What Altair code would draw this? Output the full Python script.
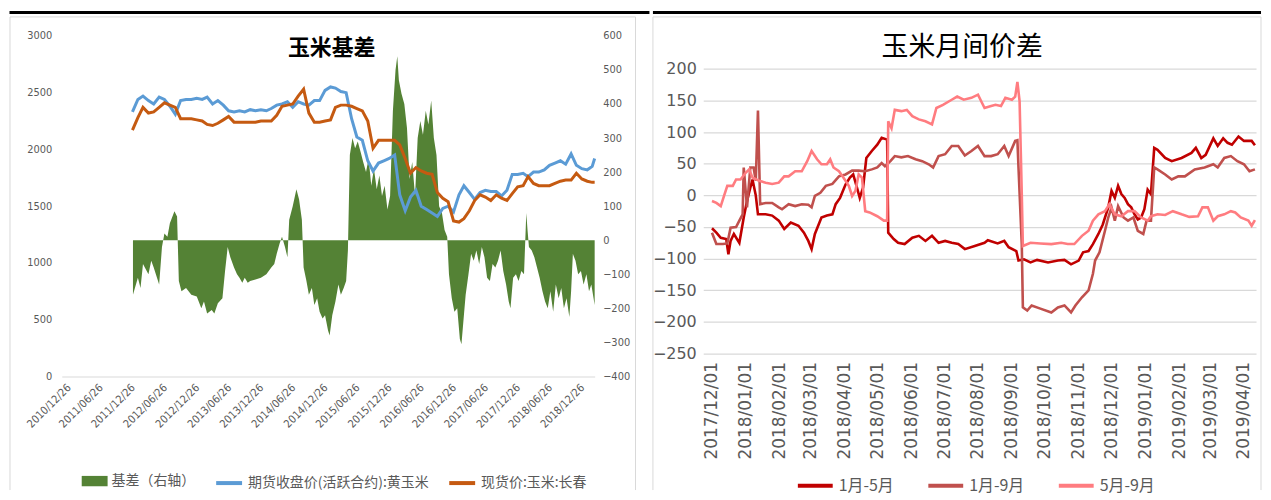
import altair as alt
import pandas as pd

# ---------------- Left panel: 玉米基差 ----------------
price_dates = [f"{2012 + i // 12}-{i % 12 + 1:02d}-15" for i in range(87)] + ["2019-03-29"]

futures_close = [
    2330, 2440, 2470, 2430, 2400, 2460, 2440, 2380, 2310, 2430, 2440, 2440,
    2450, 2440, 2460, 2400, 2430, 2390, 2340, 2330, 2340, 2330, 2350, 2340,
    2350, 2340, 2360, 2390, 2400, 2420, 2370, 2420, 2400, 2390, 2430, 2430,
    2520, 2550, 2540, 2510, 2500, 2270, 2110, 2080, 1900, 1810, 1880, 1900,
    1920, 1950, 1600, 1460, 1580, 1640, 1500, 1470, 1440, 1410, 1480, 1500,
    1450, 1600, 1680, 1620, 1560, 1620, 1640, 1630, 1630, 1590, 1640, 1780,
    1780, 1790, 1760, 1800, 1800, 1820, 1860, 1880, 1900, 1870, 1960, 1860,
    1830, 1820, 1850, 1920,
]

spot_price = [
    2170, 2280, 2370, 2320, 2330, 2370, 2410, 2390, 2370, 2270, 2270, 2270,
    2260, 2250, 2220, 2210, 2230, 2260, 2290, 2240, 2240, 2240, 2240, 2240,
    2250, 2250, 2250, 2300, 2380, 2390, 2400, 2470, 2530, 2320, 2240, 2240,
    2250, 2260, 2370, 2390, 2390, 2380, 2360, 2340, 2250, 2010, 2080, 2080,
    2080, 2080, 2040, 1920, 1790, 1840, 1810, 1790, 1780, 1620, 1570, 1540,
    1370, 1360, 1390, 1460, 1550, 1600, 1580, 1550, 1600, 1570, 1550, 1610,
    1670, 1680, 1760, 1700, 1680, 1680, 1680, 1700, 1720, 1730, 1730, 1790,
    1740, 1720, 1710, 1710,
]

basis = [
    ("2012-01-18", -160), ("2012-02-15", -110), ("2012-03-01", -140), ("2012-03-15", -70),
    ("2012-04-15", -100), ("2012-05-01", -60), ("2012-05-15", -80), ("2012-06-15", -130),
    ("2012-07-01", -20), ("2012-07-15", 20), ("2012-08-01", 10), ("2012-08-15", 50),
    ("2012-09-10", 85), ("2012-09-25", 70), ("2012-10-05", -120), ("2012-10-20", -150),
    ("2012-11-15", -140), ("2012-12-15", -160), ("2013-01-15", -165), ("2013-02-10", -200),
    ("2013-02-25", -180), ("2013-03-15", -215), ("2013-04-10", -205), ("2013-04-25", -215),
    ("2013-05-15", -185), ("2013-06-10", -170), ("2013-06-25", -90), ("2013-07-10", -20),
    ("2013-07-25", -50), ("2013-08-15", -80), ("2013-09-01", -100), ("2013-09-15", -110),
    ("2013-10-01", -125), ("2013-10-15", -110), ("2013-11-01", -125), ("2013-11-15", -120),
    ("2013-12-15", -115), ("2014-01-15", -110), ("2014-02-15", -100), ("2014-03-15", -80),
    ("2014-04-01", -70), ("2014-04-15", -40), ("2014-05-01", -10), ("2014-05-15", 10),
    ("2014-06-01", -20), ("2014-06-15", -50), ("2014-06-25", 60), ("2014-07-15", 100),
    ("2014-08-05", 150), ("2014-08-20", 120), ("2014-09-05", 60), ("2014-09-15", -80),
    ("2014-10-01", -120), ("2014-10-15", -160), ("2014-11-01", -140), ("2014-11-15", -190),
    ("2014-12-01", -170), ("2014-12-15", -210), ("2015-01-01", -230), ("2015-01-15", -220),
    ("2015-02-01", -265), ("2015-02-10", -280), ("2015-02-25", -220), ("2015-03-15", -180),
    ("2015-04-01", -130), ("2015-04-15", -160), ("2015-05-01", -140), ("2015-05-15", -120),
    ("2015-05-25", -30), ("2015-06-05", 250), ("2015-06-20", 300), ("2015-07-05", 270),
    ("2015-07-20", 290), ("2015-08-05", 260), ("2015-08-20", 230), ("2015-09-05", 200),
    ("2015-09-20", 240), ("2015-10-05", 160), ("2015-10-20", 210), ("2015-11-05", 150),
    ("2015-11-20", 190), ("2015-12-05", 130), ("2015-12-20", 160), ("2016-01-05", 90),
    ("2016-01-20", 130), ("2016-02-05", 380), ("2016-02-20", 500), ("2016-03-01", 540),
    ("2016-03-10", 470), ("2016-03-25", 430), ("2016-04-10", 400), ("2016-04-25", 330),
    ("2016-05-10", 180), ("2016-05-25", 230), ("2016-06-10", 130), ("2016-06-25", 300),
    ("2016-07-10", 350), ("2016-07-25", 310), ("2016-08-10", 380), ("2016-08-25", 340),
    ("2016-09-10", 410), ("2016-09-25", 300), ("2016-10-10", 250), ("2016-10-25", 100),
    ("2016-11-10", 80), ("2016-11-25", 30), ("2016-12-10", 10), ("2016-12-20", -100),
    ("2017-01-05", -170), ("2017-01-20", -210), ("2017-02-05", -200), ("2017-02-20", -290),
    ("2017-03-01", -305), ("2017-03-15", -220), ("2017-03-25", -160), ("2017-04-10", -100),
    ("2017-04-25", -40), ("2017-05-10", -60), ("2017-05-25", -30), ("2017-06-10", -70),
    ("2017-06-25", -20), ("2017-07-10", -50), ("2017-07-25", -110), ("2017-08-10", -120),
    ("2017-08-25", -70), ("2017-09-10", -80), ("2017-09-25", -60), ("2017-10-10", -30),
    ("2017-10-25", -90), ("2017-11-10", -130), ("2017-11-25", -180), ("2017-12-05", -200),
    ("2017-12-20", -110), ("2018-01-05", -100), ("2018-01-20", -120), ("2018-02-05", -90),
    ("2018-02-20", -100), ("2018-03-05", 80), ("2018-03-12", 30), ("2018-03-20", -20),
    ("2018-04-05", -30), ("2018-04-20", -50), ("2018-05-05", -80), ("2018-05-20", -110),
    ("2018-06-05", -150), ("2018-06-20", -180), ("2018-07-05", -200), ("2018-07-20", -150),
    ("2018-08-05", -210), ("2018-08-20", -130), ("2018-09-05", -170), ("2018-09-20", -140),
    ("2018-10-05", -200), ("2018-10-20", -170), ("2018-11-05", -225), ("2018-11-15", -150),
    ("2018-11-25", -40), ("2018-12-10", -60), ("2018-12-25", -100), ("2019-01-10", -90),
    ("2019-01-25", -130), ("2019-02-10", -100), ("2019-02-25", -150), ("2019-03-10", -130),
    ("2019-03-29", -190),
]

LEFT_TICKS = ["2010-12-26", "2011-06-26", "2011-12-26", "2012-06-26", "2012-12-26",
              "2013-06-26", "2013-12-26", "2014-06-26", "2014-12-26", "2015-06-26",
              "2015-12-26", "2016-06-26", "2016-12-26", "2017-06-26", "2017-12-26",
              "2018-06-26", "2018-12-26"]

N_BASIS = "基差（右轴）"
N_FUT = "期货收盘价(活跃合约):黄玉米"
N_SPOT = "现货价:玉米:长春"

# ---------------- Right panel: 玉米月间价差 ----------------
spread_1_5 = [
    ("2017-12-01", -52), ("2017-12-05", -59), ("2017-12-09", -67), ("2017-12-14", -69),
    ("2017-12-16", -93), ("2017-12-18", -72), ("2017-12-21", -61), ("2017-12-26", -75),
    ("2017-12-30", -35), ("2018-01-02", -9), ("2018-01-05", 12), ("2018-01-07", 25),
    ("2018-01-10", 0), ("2018-01-12", -30), ("2018-01-19", -30), ("2018-01-25", -32),
    ("2018-01-31", -40), ("2018-02-05", -53), ("2018-02-11", -43), ("2018-02-18", -48),
    ("2018-02-23", -59), ("2018-02-27", -72), ("2018-03-02", -85), ("2018-03-05", -61),
    ("2018-03-11", -35), ("2018-03-16", -32), ("2018-03-21", -30), ("2018-03-24", -14),
    ("2018-03-28", -4), ("2018-04-02", 17), ("2018-04-06", 28), ("2018-04-09", 33),
    ("2018-04-12", 15), ("2018-04-15", -4), ("2018-04-18", 12), ("2018-04-21", 59),
    ("2018-04-26", 70), ("2018-05-01", 80), ("2018-05-05", 91), ("2018-05-10", 88),
    ("2018-05-11", -59), ("2018-05-16", -69), ("2018-05-20", -75), ("2018-05-26", -77),
    ("2018-06-02", -67), ("2018-06-08", -64), ("2018-06-14", -72), ("2018-06-20", -64),
    ("2018-06-26", -75), ("2018-07-02", -72), ("2018-07-08", -75), ("2018-07-14", -77),
    ("2018-07-20", -85), ("2018-07-29", -80), ("2018-08-07", -75), ("2018-08-10", -71),
    ("2018-08-19", -76), ("2018-08-25", -72), ("2018-08-29", -82), ("2018-09-05", -88),
    ("2018-09-07", -103), ("2018-09-12", -101), ("2018-09-18", -106), ("2018-09-24", -102),
    ("2018-10-04", -106), ("2018-10-13", -103), ("2018-10-19", -102), ("2018-10-25", -109),
    ("2018-11-01", -103), ("2018-11-05", -90), ("2018-11-10", -88), ("2018-11-14", -77),
    ("2018-11-19", -61), ("2018-11-23", -46), ("2018-11-28", -19), ("2018-12-01", 7),
    ("2018-12-04", -4), ("2018-12-07", 15), ("2018-12-10", 2), ("2018-12-13", -4),
    ("2018-12-16", -14), ("2018-12-19", -19), ("2018-12-22", -30), ("2018-12-25", -38),
    ("2018-12-28", -35), ("2018-12-31", -22), ("2019-01-03", 9), ("2019-01-06", 2),
    ("2019-01-09", 75), ("2019-01-12", 72), ("2019-01-19", 59), ("2019-01-25", 54),
    ("2019-02-03", 59), ("2019-02-12", 67), ("2019-02-16", 75), ("2019-02-21", 59),
    ("2019-02-25", 64), ("2019-03-04", 90), ("2019-03-08", 78), ("2019-03-13", 90),
    ("2019-03-17", 83), ("2019-03-21", 80), ("2019-03-27", 93), ("2019-04-01", 86),
    ("2019-04-08", 86), ("2019-04-11", 79),
]

spread_1_9 = [
    ("2017-12-01", -59), ("2017-12-05", -77), ("2017-12-11", -77), ("2017-12-15", -76),
    ("2017-12-18", -51), ("2017-12-23", -50), ("2017-12-26", -40), ("2017-12-29", -30),
    ("2017-12-30", 44), ("2018-01-02", -19), ("2018-01-05", 44), ("2018-01-08", 44),
    ("2018-01-10", 23), ("2018-01-12", 134), ("2018-01-14", -14), ("2018-01-19", -12),
    ("2018-01-25", -12), ("2018-01-31", -19), ("2018-02-03", -22), ("2018-02-09", -14),
    ("2018-02-15", -17), ("2018-02-21", -14), ("2018-02-27", -15), ("2018-03-02", -19),
    ("2018-03-05", -1), ("2018-03-10", 4), ("2018-03-15", 15), ("2018-03-21", 18),
    ("2018-03-27", 30), ("2018-04-02", 33), ("2018-04-08", 39), ("2018-04-14", 39),
    ("2018-04-20", 38), ("2018-04-26", 41), ("2018-05-01", 44), ("2018-05-05", 51),
    ("2018-05-08", 46), ("2018-05-13", 54), ("2018-05-17", 62), ("2018-05-23", 60),
    ("2018-05-29", 62), ("2018-06-05", 57), ("2018-06-11", 54), ("2018-06-17", 49),
    ("2018-06-21", 44), ("2018-06-26", 62), ("2018-07-02", 65), ("2018-07-08", 78),
    ("2018-07-14", 78), ("2018-07-20", 63), ("2018-07-26", 70), ("2018-08-01", 78),
    ("2018-08-07", 62), ("2018-08-13", 62), ("2018-08-19", 65), ("2018-08-25", 78),
    ("2018-08-29", 62), ("2018-09-04", 86), ("2018-09-06", 87), ("2018-09-07", 44),
    ("2018-09-10", -77), ("2018-09-11", -177), ("2018-09-15", -182), ("2018-09-19", -174),
    ("2018-09-27", -179), ("2018-10-07", -185), ("2018-10-13", -177), ("2018-10-19", -174),
    ("2018-10-25", -185), ("2018-10-29", -174), ("2018-11-04", -161), ("2018-11-10", -150),
    ("2018-11-14", -124), ("2018-11-16", -103), ("2018-11-20", -90), ("2018-11-25", -56),
    ("2018-11-28", -35), ("2018-12-01", -19), ("2018-12-04", -40), ("2018-12-07", -17),
    ("2018-12-12", -35), ("2018-12-16", -40), ("2018-12-21", -35), ("2018-12-25", -56),
    ("2018-12-30", -61), ("2019-01-02", -40), ("2019-01-06", -40), ("2019-01-09", 44),
    ("2019-01-12", 41), ("2019-01-19", 33), ("2019-01-25", 25), ("2019-01-31", 30),
    ("2019-02-06", 30), ("2019-02-15", 41), ("2019-02-24", 44), ("2019-03-04", 49),
    ("2019-03-08", 44), ("2019-03-14", 59), ("2019-03-20", 62), ("2019-03-26", 54),
    ("2019-04-01", 49), ("2019-04-06", 38), ("2019-04-11", 41),
]

spread_5_9 = [
    ("2017-12-01", -9), ("2017-12-05", -12), ("2017-12-09", -17), ("2017-12-12", -1),
    ("2017-12-15", 15), ("2017-12-20", 15), ("2017-12-23", 25), ("2017-12-27", 25),
    ("2018-01-01", 36), ("2018-01-04", 41), ("2018-01-07", 28), ("2018-01-13", 23),
    ("2018-01-19", 20), ("2018-01-25", 18), ("2018-01-31", 20), ("2018-02-05", 30),
    ("2018-02-09", 30), ("2018-02-15", 38), ("2018-02-21", 38), ("2018-02-26", 54),
    ("2018-03-02", 70), ("2018-03-07", 57), ("2018-03-11", 49), ("2018-03-16", 49),
    ("2018-03-19", 57), ("2018-03-22", 44), ("2018-03-27", 38), ("2018-03-31", 28),
    ("2018-04-05", 15), ("2018-04-08", -1), ("2018-04-11", 7), ("2018-04-14", 33),
    ("2018-04-17", 28), ("2018-04-20", -25), ("2018-04-24", -27), ("2018-05-01", -33),
    ("2018-05-07", -40), ("2018-05-10", -40), ("2018-05-11", 117), ("2018-05-14", 106),
    ("2018-05-17", 135), ("2018-05-23", 133), ("2018-05-28", 135), ("2018-06-02", 125),
    ("2018-06-08", 120), ("2018-06-14", 117), ("2018-06-20", 112), ("2018-06-24", 138),
    ("2018-06-30", 143), ("2018-07-08", 151), ("2018-07-13", 156), ("2018-07-19", 151),
    ("2018-07-26", 154), ("2018-08-01", 159), ("2018-08-07", 138), ("2018-08-13", 141),
    ("2018-08-17", 143), ("2018-08-22", 141), ("2018-08-26", 154), ("2018-09-01", 151),
    ("2018-09-04", 156), ("2018-09-06", 179), ("2018-09-08", 149), ("2018-09-10", 2),
    ("2018-09-11", -80), ("2018-09-18", -75), ("2018-09-27", -76), ("2018-10-07", -77),
    ("2018-10-16", -75), ("2018-10-22", -77), ("2018-10-28", -77), ("2018-11-04", -64),
    ("2018-11-10", -56), ("2018-11-14", -40), ("2018-11-19", -30), ("2018-11-25", -25),
    ("2018-11-29", -14), ("2018-12-04", -30), ("2018-12-10", -33), ("2018-12-16", -25),
    ("2018-12-22", -25), ("2018-12-28", -35), ("2019-01-03", -40), ("2019-01-06", -33),
    ("2019-01-12", -30), ("2019-01-19", -31), ("2019-01-26", -25), ("2019-02-03", -30),
    ("2019-02-10", -34), ("2019-02-18", -33), ("2019-02-22", -19), ("2019-02-27", -19),
    ("2019-03-04", -40), ("2019-03-08", -33), ("2019-03-14", -30), ("2019-03-20", -25),
    ("2019-03-24", -27), ("2019-03-29", -35), ("2019-04-05", -40), ("2019-04-08", -48),
    ("2019-04-11", -39),
]

RIGHT_TICKS = ["2017-12-01", "2018-01-01", "2018-02-01", "2018-03-01", "2018-04-01",
               "2018-05-01", "2018-06-01", "2018-07-01", "2018-08-01", "2018-09-01",
               "2018-10-01", "2018-11-01", "2018-12-01", "2019-01-01", "2019-02-01",
               "2019-03-01", "2019-04-01"]

S15, S19, S59 = "1月-5月", "1月-9月", "5月-9月"

# ---------------- helpers ----------------
CJK = "Noto Sans CJK SC"
NARROW = "Liberation Sans Narrow, DejaVu Sans Condensed, Liberation Sans"
GREY = "#595959"
LINE_GREY = "#D9D9D9"


def dt(s):
    y, m, d = map(int, s.split("-"))
    return alt.DateTime(year=y, month=m, date=d)


dummy = pd.DataFrame({"k": [0]})


def hrule(x1, x2, y, color, w):
    return alt.Chart(dummy).mark_rule(color=color, strokeWidth=w).encode(
        x=alt.value(x1), x2=alt.value(x2), y=alt.value(y))


def vrule(x, y1, y2, color, w):
    return alt.Chart(dummy).mark_rule(color=color, strokeWidth=w).encode(
        x=alt.value(x), y=alt.value(y1), y2=alt.value(y2))


def label(text, x, y, size, weight):
    return alt.Chart(dummy).mark_text(
        text=text, font=CJK, fontSize=size, fontWeight=weight, color="black",
        align="center", baseline="middle").encode(x=alt.value(x), y=alt.value(y))


# ---------------- left chart ----------------
W1, H1 = 535, 342

df_basis = pd.DataFrame(basis, columns=["date", "value"])
df_basis["date"] = pd.to_datetime(df_basis["date"])
df_basis["series"] = N_BASIS

df_price = pd.concat([
    pd.DataFrame({"date": pd.to_datetime(price_dates), "value": futures_close, "series": N_FUT}),
    pd.DataFrame({"date": pd.to_datetime(price_dates), "value": spot_price, "series": N_SPOT}),
], ignore_index=True)

x_left = alt.X(
    "date:T", title=None,
    scale=alt.Scale(domain=[dt("2010-12-09"), dt("2019-03-29")]),
    axis=alt.Axis(values=[dt(s) for s in LEFT_TICKS], format="%Y/%m/%d", labelAngle=-45,
                  labelFontSize=11, labelColor=GREY, labelFont=NARROW, ticks=False,
                  grid=False, domainColor=LINE_GREY, domainWidth=1.2, labelOverlap=False,
                  labelFlush=False, labelBound=False, labelPadding=5),
)

area = alt.Chart(df_basis).mark_area(interpolate="linear").encode(
    x=x_left,
    y=alt.Y("value:Q", title=None, scale=alt.Scale(domain=[-400, 600], nice=False),
            axis=alt.Axis(orient="right", values=list(range(-400, 601, 100)), format="d",
                          labelFontSize=11, labelColor=GREY, labelFont=NARROW, ticks=False,
                          domain=False, grid=False, labelPadding=8)),
    y2=alt.datum(0),
    fill=alt.Fill("series:N", scale=alt.Scale(domain=[N_BASIS], range=["#548235"]),
                  legend=alt.Legend(title=None, orient="none", legendX=20, legendY=434,
                                    symbolType="M-1,-0.4L1,-0.4L1,0.4L-1,0.4Z", symbolSize=676,
                                    symbolStrokeWidth=0, labelFontSize=14, labelColor=GREY,
                                    labelFont=CJK, labelOffset=4, labelLimit=400, padding=0)),
)

lines = alt.Chart(df_price).mark_line(strokeWidth=3).encode(
    x=x_left,
    y=alt.Y("value:Q", title=None, scale=alt.Scale(domain=[0, 3000], nice=False),
            axis=alt.Axis(orient="left", values=list(range(0, 3001, 500)), format="d",
                          labelFontSize=11, labelColor=GREY, labelFont=NARROW, ticks=False,
                          domain=False, grid=False, labelPadding=10)),
    stroke=alt.Stroke("series:N", scale=alt.Scale(domain=[N_FUT, N_SPOT], range=["#5B9BD5", "#C55A11"]),
                      legend=alt.Legend(title=None, orient="none", legendX=153, legendY=434,
                                        direction="horizontal", symbolType="stroke", symbolSize=676,
                                        symbolStrokeWidth=4, labelFontSize=14, labelColor=GREY,
                                        labelFont=CJK, labelOffset=4, labelLimit=400,
                                        columnPadding=12, padding=0)),
)

left = alt.layer(
    hrule(-52.5, 590, -23.5, "black", 3),
    hrule(-52, 576, -19, LINE_GREY, 1),
    vrule(-52, -19, 456, LINE_GREY, 1),
    vrule(576, -19, 456, LINE_GREY, 1),
    area,
    lines,
    label("玉米基差", 271, 12, 22, "bold"),
).resolve_scale(y="independent").properties(width=W1, height=H1)

# ---------------- right chart ----------------
# plot top aligned with the left panel (page y 35); value axis spans 33..319 px
W2, H2 = 555, 319

df_spread = pd.concat([
    pd.DataFrame(spread_1_5, columns=["date", "value"]).assign(series=S15),
    pd.DataFrame(spread_1_9, columns=["date", "value"]).assign(series=S19),
    pd.DataFrame(spread_5_9, columns=["date", "value"]).assign(series=S59),
], ignore_index=True)
df_spread["date"] = pd.to_datetime(df_spread["date"])

spreads = alt.Chart(df_spread).mark_line(strokeWidth=2.6).encode(
    x=alt.X("date:T", title=None,
            scale=alt.Scale(domain=[dt("2017-11-23"), dt("2019-04-12")]),
            axis=alt.Axis(values=[dt(s) for s in RIGHT_TICKS], format="%Y/%m/%d", labelAngle=-90,
                          labelFontSize=17, labelFont="DejaVu Sans", labelColor=GREY,
                          ticks=False, grid=False, domain=False, labelOverlap=False,
                          labelFlush=False, labelBound=False, labelPadding=8)),
    y=alt.Y("value:Q", title=None,
            scale=alt.Scale(domain=[-250, 200], nice=False, range=[H2, 33]),
            axis=alt.Axis(values=list(range(-250, 201, 50)), labelFontSize=16,
                          labelFont="DejaVu Sans", labelColor=GREY, ticks=False, domain=False,
                          grid=True, gridColor=LINE_GREY, gridWidth=1.3, labelPadding=7)),
    stroke=alt.Stroke("series:N", scale=alt.Scale(domain=[S15, S19, S59],
                                                  range=["#C00000", "#C0504D", "#FF7C80"]),
                      legend=alt.Legend(title=None, orient="none", legendX=93, legendY=432,
                                        direction="horizontal", symbolType="stroke", symbolSize=1225,
                                        symbolStrokeWidth=4, labelFontSize=16, labelColor=GREY,
                                        labelFont=CJK, labelOffset=4, columnPadding=26, padding=0)),
)

right = alt.layer(
    hrule(-50.5, 560, -23.5, "black", 3),
    hrule(-50.5, 560, -19, LINE_GREY, 1),
    vrule(-50.5, -19, 456, LINE_GREY, 1),
    vrule(560, -19, 456, LINE_GREY, 1),
    spreads,
    label("玉米月间价差", 260, 12, 27, "normal"),
).properties(width=W2, height=H2)

chart = alt.hconcat(left, right, spacing=0).resolve_scale(
    stroke="independent", fill="independent"
).resolve_legend(
    stroke="independent", fill="independent"
).properties(
    padding={"left": 0, "top": 2, "right": 0, "bottom": 0}
).configure_view(stroke=None)

chart.save("out.html", embed_options={"renderer": "svg", "actions": False})
